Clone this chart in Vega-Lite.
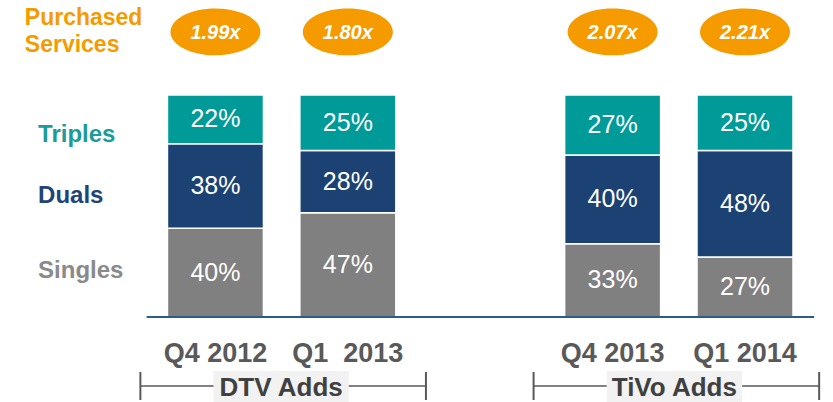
{
  "$schema": "https://vega.github.io/schema/vega-lite/v6.json",
  "width": 833,
  "height": 402,
  "autosize": {"type": "none"},
  "padding": 0,
  "background": "#ffffff",
  "data": {"values": [{}]},
  "config": {
    "view": {"stroke": null},
    "axis": {"disable": true},
    "font": "Liberation Sans"
  },
  "datasets": {
    "bars": [
      {"quarter": "Q4 2012", "idx": 1, "segment": "Singles", "rank": 1, "pct": 40},
      {"quarter": "Q4 2012", "idx": 1, "segment": "Duals", "rank": 2, "pct": 38},
      {"quarter": "Q4 2012", "idx": 1, "segment": "Triples", "rank": 3, "pct": 22},
      {"quarter": "Q1 2013", "idx": 2, "segment": "Singles", "rank": 1, "pct": 47},
      {"quarter": "Q1 2013", "idx": 2, "segment": "Duals", "rank": 2, "pct": 28},
      {"quarter": "Q1 2013", "idx": 2, "segment": "Triples", "rank": 3, "pct": 25},
      {"quarter": "Q4 2013", "idx": 4, "segment": "Singles", "rank": 1, "pct": 33},
      {"quarter": "Q4 2013", "idx": 4, "segment": "Duals", "rank": 2, "pct": 40},
      {"quarter": "Q4 2013", "idx": 4, "segment": "Triples", "rank": 3, "pct": 27},
      {"quarter": "Q1 2014", "idx": 5, "segment": "Singles", "rank": 1, "pct": 27},
      {"quarter": "Q1 2014", "idx": 5, "segment": "Duals", "rank": 2, "pct": 48},
      {"quarter": "Q1 2014", "idx": 5, "segment": "Triples", "rank": 3, "pct": 25}
    ],
    "quarters": [
      {"quarter": "Q4 2012", "label": "Q4 2012", "idx": 1, "multiple": "1.99x"},
      {"quarter": "Q1 2013", "label": "Q1\u00a0 2013", "idx": 2, "multiple": "1.80x"},
      {"quarter": "Q4 2013", "label": "Q4 2013", "idx": 4, "multiple": "2.07x"},
      {"quarter": "Q1 2014", "label": "Q1 2014", "idx": 5, "multiple": "2.21x"}
    ]
  },
  "layer": [
    {
      "data": {"name": "bars"},
      "transform": [
        {"stack": "pct", "groupby": ["quarter"], "sort": [{"field": "rank", "order": "ascending"}], "as": ["y0", "y1"]},
        {"calculate": "(datum.y0 + datum.y1) / 2", "as": "ymid"},
        {"calculate": "datum.pct + '%'", "as": "pctLabel"}
      ],
      "layer": [
        {
          "mark": {"type": "bar", "orient": "vertical", "size": 96, "stroke": "#ffffff", "strokeWidth": 1.5},
          "encoding": {
            "x": {"field": "idx", "type": "quantitative", "scale": {"domain": [-0.5896, 5.6269], "nice": false, "zero": false}},
            "y": {"field": "y0", "type": "quantitative", "scale": {"domain": [-38.29, 142.79], "nice": false, "zero": false}},
            "y2": {"field": "y1"},
            "color": {"field": "segment", "type": "nominal", "scale": {"domain": ["Singles", "Duals", "Triples"], "range": ["#808080", "#1C4273", "#009B98"]}, "legend": null}
          }
        },
        {
          "mark": {"type": "text", "color": "#ffffff", "fontSize": 25, "align": "center", "baseline": "middle"},
          "encoding": {
            "x": {"field": "idx", "type": "quantitative"},
            "y": {"field": "ymid", "type": "quantitative"},
            "text": {"field": "pctLabel", "type": "nominal"}
          }
        }
      ]
    },
    {
      "mark": {"type": "rule", "color": "#2D5B8E", "strokeWidth": 2},
      "encoding": {
        "x": {"datum": 0.48, "type": "quantitative"},
        "x2": {"datum": 5.522},
        "y": {"datum": 0, "type": "quantitative"}
      }
    },
    {
      "data": {"name": "quarters"},
      "layer": [
        {
          "mark": {"type": "text", "fontSize": 27, "fontWeight": "bold", "color": "#595959", "align": "center", "baseline": "alphabetic"},
          "encoding": {
            "x": {"field": "idx", "type": "quantitative"},
            "y": {"datum": -20.27, "type": "quantitative"},
            "text": {"field": "label"}
          }
        },
        {
          "mark": {"type": "point", "shape": "M -1 0 A 1 0.52 0 1 1 1 0 A 1 0.52 0 1 1 -1 0 Z", "filled": true, "size": 8100, "color": "#F59B00", "opacity": 1, "strokeWidth": 0},
          "encoding": {
            "x": {"field": "idx", "type": "quantitative"},
            "y": {"datum": 128.4, "type": "quantitative"}
          }
        },
        {
          "mark": {"type": "text", "fontSize": 20, "fontWeight": "bold", "fontStyle": "italic", "color": "#ffffff", "align": "center", "baseline": "middle"},
          "encoding": {
            "x": {"field": "idx", "type": "quantitative"},
            "y": {"datum": 127.9, "type": "quantitative"},
            "text": {"field": "multiple"}
          }
        }
      ]
    },
    {
      "mark": {"type": "text", "text": "Triples", "fontSize": 24, "fontWeight": "bold", "color": "#1A9C98", "align": "left", "baseline": "alphabetic"},
      "encoding": {"x": {"datum": -0.34, "type": "quantitative"}, "y": {"datum": 79.05, "type": "quantitative"}}
    },
    {
      "mark": {"type": "text", "text": "Duals", "fontSize": 24, "fontWeight": "bold", "color": "#1E4478", "align": "left", "baseline": "alphabetic"},
      "encoding": {"x": {"datum": -0.34, "type": "quantitative"}, "y": {"datum": 51.35, "type": "quantitative"}}
    },
    {
      "mark": {"type": "text", "text": "Singles", "fontSize": 24, "fontWeight": "bold", "color": "#8A8A8A", "align": "left", "baseline": "alphabetic"},
      "encoding": {"x": {"datum": -0.34, "type": "quantitative"}, "y": {"datum": 17.57, "type": "quantitative"}}
    },
    {
      "mark": {"type": "text", "text": ["Purchased", "Services"], "lineHeight": 27, "fontSize": 23, "fontWeight": "bold", "color": "#F59B00", "align": "left", "baseline": "alphabetic"},
      "encoding": {"x": {"datum": -0.44, "type": "quantitative"}, "y": {"datum": 131.5, "type": "quantitative"}}
    },
    {
      "mark": {"type": "rule", "color": "#595959", "strokeWidth": 1.5},
      "encoding": {"x": {"datum": 0.433, "type": "quantitative"}, "x2": {"datum": 2.59}, "y": {"datum": -31.08, "type": "quantitative"}}
    },
    {
      "mark": {"type": "rule", "color": "#595959", "strokeWidth": 2},
      "encoding": {"x": {"datum": 0.433, "type": "quantitative"}, "y": {"datum": -24.77, "type": "quantitative"}, "y2": {"datum": -37.39}}
    },
    {
      "mark": {"type": "rule", "color": "#595959", "strokeWidth": 2},
      "encoding": {"x": {"datum": 2.59, "type": "quantitative"}, "y": {"datum": -24.77, "type": "quantitative"}, "y2": {"datum": -37.39}}
    },
    {
      "mark": {"type": "rect", "color": "#F2F2F2"},
      "encoding": {"x": {"datum": 0.985, "type": "quantitative"}, "x2": {"datum": 2.007}, "y": {"datum": -24.32, "type": "quantitative"}, "y2": {"datum": -39}}
    },
    {
      "mark": {"type": "text", "text": "DTV Adds", "fontSize": 26, "fontWeight": "bold", "color": "#404040", "align": "center", "baseline": "alphabetic"},
      "encoding": {"x": {"datum": 1.496, "type": "quantitative"}, "y": {"datum": -35.59, "type": "quantitative"}}
    },
    {
      "mark": {"type": "rule", "color": "#595959", "strokeWidth": 1.5},
      "encoding": {"x": {"datum": 3.403, "type": "quantitative"}, "x2": {"datum": 5.56}, "y": {"datum": -31.08, "type": "quantitative"}}
    },
    {
      "mark": {"type": "rule", "color": "#595959", "strokeWidth": 2},
      "encoding": {"x": {"datum": 3.403, "type": "quantitative"}, "y": {"datum": -24.77, "type": "quantitative"}, "y2": {"datum": -37.39}}
    },
    {
      "mark": {"type": "rule", "color": "#595959", "strokeWidth": 2},
      "encoding": {"x": {"datum": 5.56, "type": "quantitative"}, "y": {"datum": -24.77, "type": "quantitative"}, "y2": {"datum": -37.39}}
    },
    {
      "mark": {"type": "rect", "color": "#F2F2F2"},
      "encoding": {"x": {"datum": 3.955, "type": "quantitative"}, "x2": {"datum": 4.978}, "y": {"datum": -24.32, "type": "quantitative"}, "y2": {"datum": -39}}
    },
    {
      "mark": {"type": "text", "text": "TiVo Adds", "fontSize": 26, "fontWeight": "bold", "color": "#404040", "align": "center", "baseline": "alphabetic"},
      "encoding": {"x": {"datum": 4.466, "type": "quantitative"}, "y": {"datum": -35.59, "type": "quantitative"}}
    }
  ]
}
